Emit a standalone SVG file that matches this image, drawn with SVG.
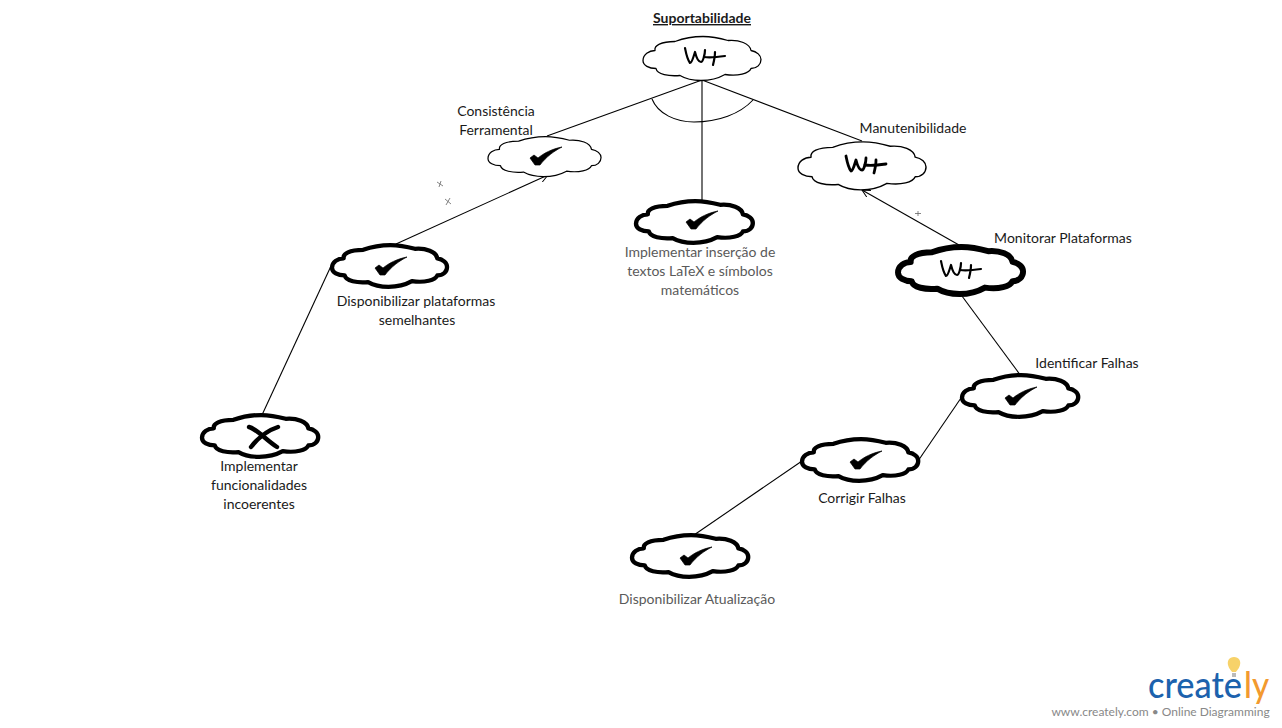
<svg xmlns="http://www.w3.org/2000/svg" width="1282" height="728" viewBox="0 0 1282 728">
<style>
text{font-family:Lato,"Liberation Sans",sans-serif;font-size:14px;fill:#1a1a1a;text-anchor:middle}
.g{fill:#5a5a5a}
.c{fill:#fff;stroke:#000;vector-effect:non-scaling-stroke;stroke-linejoin:round}
.t1{stroke-width:1.3}.t4{stroke-width:4.4}.t5{stroke-width:5.6}
.l{fill:none;stroke:#000;stroke-width:1.1}
.ic{fill:none;stroke:#000;stroke-linecap:round;stroke-linejoin:round}
.ck{fill:#000;stroke:#000;stroke-width:.7;stroke-linejoin:round}
.m{fill:none;stroke:#666;stroke-width:.8}
.lg{font-size:36px;text-anchor:start;font-weight:500}
</style>
<defs>
<path id="cloud" d="M0 23C0 17 6 13 12 13C11 8 18 4 32 4C40 1 50-1 60-1C70-1 78 1 85 3C96 2 107 6 108 13C114 14 118 18 118 22C118 27 114 31 108 31C106 36 95 39 82 37C75 41 67 43 58 43C50 43 42 41 37 38C26 39 14 37 13 31C6 31 0 28 0 23Z"/>
<path id="check" d="M-16 2L-12-1L-8 2C-2-3 6-7 16-9C8-5 0 1-6 9L-11 9Z"/>
<g id="wplus" class="ic"><path d="M-19-9C-18-4-17 2-14 6C-12 6-10-2-9-5C-8-1-6 5-3 5C-1 5 1-3 1-7"/><path d="M0 0C7 1 14 0 21-1"/><path d="M11-5C11 0 10 4 9 8"/></g>
<marker id="arr" markerWidth="10" markerHeight="10" refX="8" refY="4" orient="auto" markerUnits="userSpaceOnUse"><path d="M0 0L8 4L0 8" fill="none" stroke="#000" stroke-width="1"/></marker>
</defs>
<rect width="1282" height="728" fill="#fff"/>
<g id="connectors">
<path class="l" d="M702 80L547 136"/>
<path class="l" d="M702 76V201"/>
<path class="l" d="M702 80L862 141"/>
<path class="l" d="M652 99C658 114 676 122 694 122C718 122 740 114 753 100"/>
<path class="l" marker-end="url(#arr)" d="M396 244L548 175"/>
<path class="l" d="M331 266L262 415"/>
<path class="l" marker-end="url(#arr)" d="M959 245L862 190"/>
<path class="l" d="M959 292L1021 376"/>
<path class="l" d="M961 398L918 461"/>
<path class="l" d="M802 461L694 535"/>
</g>
<g id="n-suportabilidade">
<text x="702" y="23" font-weight="700" text-decoration="underline">Suportabilidade</text>
<use href="#cloud" class="c t1" transform="translate(643 37.500)"/>
<use href="#wplus" transform="translate(704 57)" stroke-width="2.2"/>
</g>
<g id="n-consistencia">
<text x="496" y="116">Consistência</text><text x="496" y="135">Ferramental</text>
<use href="#cloud" class="c t1" transform="translate(488 137.500) scale(.958 .91)"/>
<use href="#check" class="ck" transform="translate(546 156)"/>
<path class="m" d="M437 182L443 186M441 181L439 187M445 199L451 204M450 198L446 205"/>
</g>
<g id="n-manutenibilidade">
<text x="913" y="133">Manutenibilidade</text>
<use href="#cloud" class="c t1" transform="translate(798 143) scale(1.085 1.09)"/>
<use href="#wplus" transform="translate(865 165)" stroke-width="2.8"/>
</g>
<g id="n-inserir">
<use href="#cloud" class="c t4" transform="translate(636 202) scale(.99 .95)"/>
<use href="#check" class="ck" transform="translate(702 220)"/>
<text class="g" x="700" y="257">Implementar inserção de</text><text class="g" x="700" y="276">textos LaTeX e símbolos</text><text class="g" x="700" y="295">matemáticos</text>
</g>
<g id="n-plataformas">
<use href="#cloud" class="c t4" transform="translate(332 246) scale(.975 .95)"/>
<use href="#check" class="ck" transform="translate(391 266)"/>
<text x="416" y="306">Disponibilizar plataformas</text><text x="417" y="325">semelhantes</text>
</g>
<g id="n-monitorar">
<text x="1063" y="243">Monitorar Plataformas</text>
<use href="#cloud" class="c t5" transform="translate(898 248) scale(1.06 1.07)"/>
<use href="#wplus" transform="translate(960 270)" stroke-width="2.2"/>
<path class="m" d="M915 213.500H921M918 211V216"/>
</g>
<g id="n-identificar">
<text x="1087" y="368">Identificar Falhas</text>
<use href="#cloud" class="c t4" transform="translate(962 376) scale(.985 .95)"/>
<use href="#check" class="ck" transform="translate(1021 396)"/>
</g>
<g id="n-corrigir">
<use href="#cloud" class="c t4" transform="translate(802 440) scale(.985 .95)"/>
<use href="#check" class="ck" transform="translate(866 460)"/>
<text x="862" y="503">Corrigir Falhas</text>
</g>
<g id="n-atualizacao">
<use href="#cloud" class="c t4" transform="translate(632 536) scale(.985 .95)"/>
<use href="#check" class="ck" transform="translate(696 556)"/>
<text class="g" x="697" y="604">Disponibilizar Atualização</text>
</g>
<g id="n-incoerentes">
<use href="#cloud" class="c t4" transform="translate(202 416) scale(.985 .95)"/>
<path d="M249 427C257 429 266 440 277 447M278 427C266 431 258 438 251 447" fill="none" stroke="#000" stroke-width="4.4" stroke-linecap="round"/>
<text x="259" y="471">Implementar</text><text x="259" y="490">funcionalidades</text><text x="259" y="509">incoerentes</text>
</g>
<g id="logo">
<path d="M1234 657C1229 657 1227 661 1228 665C1229 669 1231 670 1232 672H1236C1237 670 1239 669 1240 665C1241 661 1239 657 1234 657Z" fill="#f7d269"/>
<path d="M1232 673H1236V677H1232Z" fill="#bbb"/>
<text class="lg" x="1148" y="698" style="fill:#1c62ad" textLength="94" lengthAdjust="spacingAndGlyphs">create</text>
<text class="lg" x="1244" y="698" style="fill:#f29a2e" textLength="25" lengthAdjust="spacingAndGlyphs">ly</text>
<text x="1160.500" y="716" style="font-size:12px;fill:#888">www.creately.com • Online Diagramming</text>
</g>
</svg>
